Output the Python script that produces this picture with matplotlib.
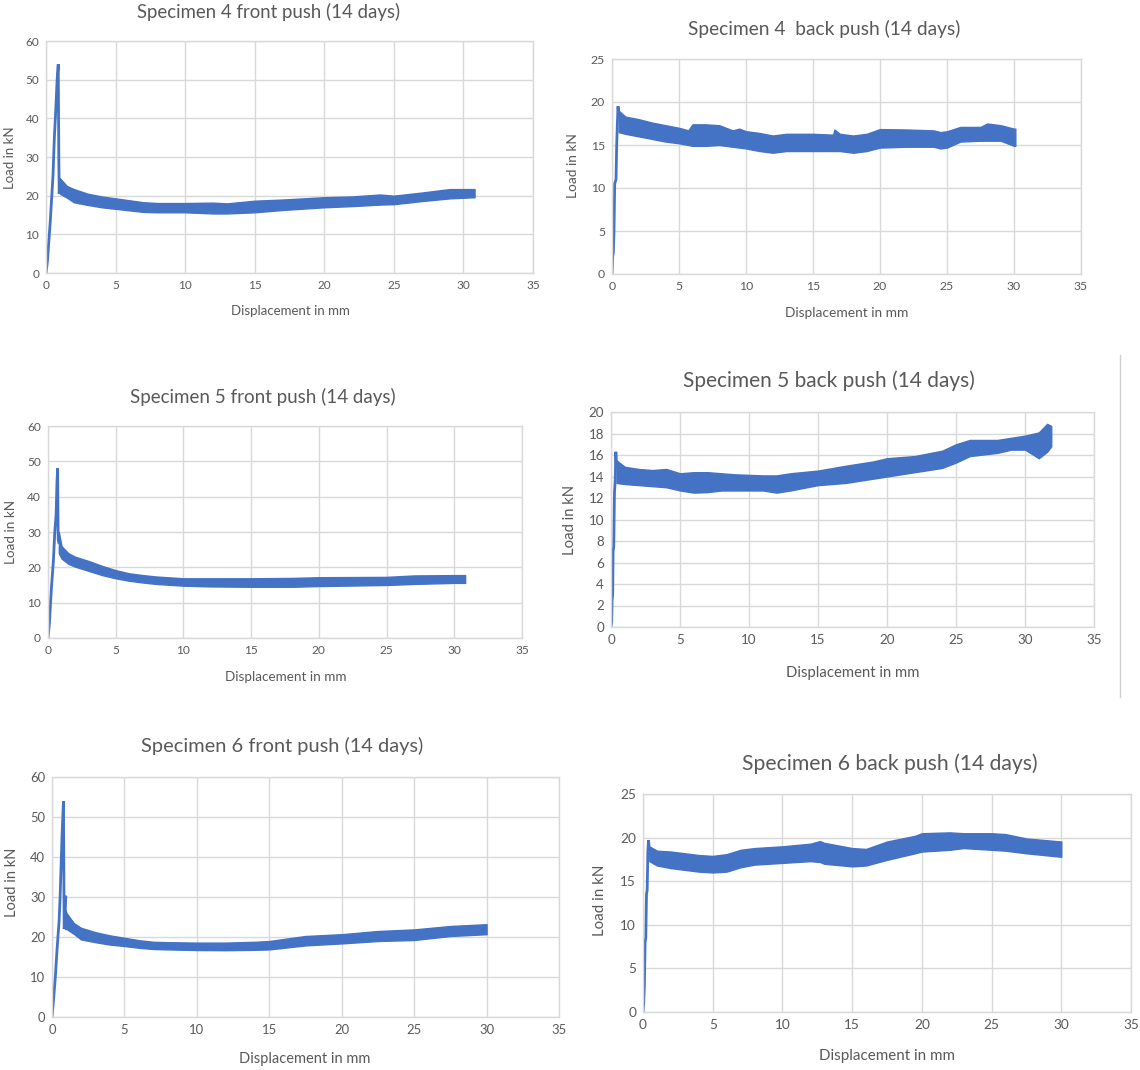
import matplotlib
matplotlib.use("Agg")
import matplotlib.pyplot as plt
from matplotlib.lines import Line2D

W, H = 1140, 1070
BLUE = "#4472C4"
GRID = "#D9D9D9"
TXT = "#595959"
FONT = ["Lato", "DejaVu Sans"]
plt.rcParams["font.family"] = FONT

# ---------------- data ----------------
# Specimen 4 front push
s4f_rise_x = [0.0, 0.1, 0.3, 0.5, 0.6, 0.7, 0.8, 0.88, 0.92, 0.95, 1.0]
s4f_rise_y = [0.0, 3.0, 13.0, 25.0, 35.0, 42.0, 50.0, 54.0, 30.0, 20.5, 24.0]
s4f_x  = [1.0, 1.5, 2, 3, 4, 5, 6, 7, 8, 10, 12, 13, 15, 17, 20, 22, 24, 25, 27, 29, 30.8]
s4f_lo = [20.5, 19.5, 18.3, 17.6, 17.0, 16.6, 16.2, 15.8, 15.7, 15.7, 15.4, 15.4, 15.7, 16.3, 17.0, 17.3, 17.7, 17.8, 18.6, 19.3, 19.6]
s4f_hi = [24.5, 22.5, 21.7, 20.5, 19.8, 19.3, 18.8, 18.3, 18.1, 18.1, 18.2, 18.0, 18.7, 19.0, 19.6, 19.8, 20.3, 20.0, 20.8, 21.7, 21.7]

# Specimen 4 back push
s4b_rise_x = [0.0, 0.05, 0.1, 0.15, 0.2, 0.3, 0.35, 0.4, 0.45, 0.5]
s4b_rise_y = [0.0, 2.0, 2.5, 5.0, 10.5, 11.0, 15.0, 17.5, 19.5, 18.5]
s4b_x  = [0.5, 1, 2, 3, 4, 5, 5.7, 6, 7, 8, 9, 9.5, 10, 11, 12, 13, 15, 16.5, 16.6, 17,
          18, 19, 20, 22, 24, 24.5, 25, 26, 27.5, 28, 29, 30, 30.1]
s4b_lo = [16.5, 16.3, 16.0, 15.7, 15.4, 15.2, 15.0, 14.9, 14.9, 15.0, 14.8, 14.7, 14.6, 14.3, 14.1, 14.3, 14.3, 14.3, 14.3, 14.3,
          14.1, 14.3, 14.7, 14.8, 14.8, 14.6, 14.7, 15.4, 15.5, 15.5, 15.5, 14.9, 14.9]
s4b_hi = [19.0, 18.3, 18.0, 17.6, 17.3, 17.0, 16.7, 17.4, 17.4, 17.3, 16.7, 16.9, 16.6, 16.4, 16.1, 16.3, 16.3, 16.2, 16.8, 16.3,
          16.1, 16.3, 16.85, 16.8, 16.7, 16.5, 16.6, 17.1, 17.1, 17.5, 17.3, 16.9, 16.9]

# Specimen 5 front push
s5f_rise_x = [0.0, 0.1, 0.25, 0.4, 0.5, 0.6, 0.66, 0.71, 0.75, 0.8]
s5f_rise_y = [0.0, 4.0, 14.0, 22.0, 30.0, 35.0, 44.0, 48.0, 28.0, 27.0]
s5f_x  = [0.8, 1, 1.5, 2, 3, 4, 5, 6, 7, 8, 10, 12, 15, 18, 20, 25, 27, 30, 30.8]
s5f_lo = [24.0, 22.5, 21.0, 20.2, 19.0, 17.8, 16.9, 16.2, 15.7, 15.3, 14.8, 14.6, 14.5, 14.5, 14.7, 15.0, 15.3, 15.6, 15.6]
s5f_hi = [30.0, 26.0, 24.0, 23.0, 21.8, 20.4, 19.2, 18.3, 17.8, 17.4, 16.9, 16.9, 16.9, 17.0, 17.2, 17.3, 17.7, 17.8, 17.8]

# Specimen 5 back push
s5b_rise_x = [0.0, 0.05, 0.08, 0.12, 0.15, 0.2, 0.25, 0.3, 0.35, 0.4]
s5b_rise_y = [0.0, 0.5, 2.5, 3.0, 7.0, 7.5, 12.5, 13.5, 16.3, 15.0]
s5b_x  = [0.4, 1, 2, 3, 4, 5, 6, 7, 8, 9, 10, 11, 12, 13, 15, 17, 19, 20, 22, 24, 25, 26, 28, 29, 30, 31, 31.6, 31.9]
s5b_lo = [13.4, 13.3, 13.2, 13.1, 13.0, 12.7, 12.5, 12.55, 12.7, 12.7, 12.7, 12.7, 12.5, 12.7, 13.2, 13.4, 13.8, 14.0,
          14.4, 14.8, 15.3, 15.9, 16.2, 16.5, 16.5, 15.7, 16.3, 16.8]
s5b_hi = [15.5, 14.9, 14.7, 14.6, 14.7, 14.3, 14.4, 14.4, 14.3, 14.2, 14.15, 14.1, 14.1, 14.3, 14.55, 15.0, 15.4, 15.7,
          15.9, 16.4, 17.0, 17.4, 17.4, 17.6, 17.8, 18.1, 18.9, 18.7]

# Specimen 6 front push
s6f_rise_x = [0.0, 0.1, 0.23, 0.35, 0.49, 0.56, 0.69, 0.79, 0.84, 0.88, 0.95]
s6f_rise_y = [0.0, 4.0, 10.0, 17.0, 24.0, 30.0, 45.0, 54.0, 22.0, 23.0, 30.0]
s6f_x  = [0.9, 1, 1.5, 2, 3, 4, 5, 6, 7, 8, 10, 12, 14, 15, 17.5, 20, 22.5, 25, 27.5, 30]
s6f_lo = [22.0, 22.0, 20.8, 19.4, 18.7, 18.1, 17.75, 17.3, 17.0, 16.9, 16.75, 16.7, 16.8, 16.9, 17.9, 18.4, 19.0, 19.25, 20.25, 20.7]
s6f_hi = [27.0, 26.0, 23.5, 22.3, 21.2, 20.4, 19.8, 19.2, 18.8, 18.7, 18.6, 18.6, 18.8, 19.0, 20.25, 20.7, 21.5, 21.9, 22.75, 23.2]

# Specimen 6 back push
s6b_rise_x = [0.0, 0.05, 0.1, 0.15, 0.2, 0.25, 0.3, 0.35, 0.4, 0.45]
s6b_rise_y = [0.0, 1.0, 3.0, 8.0, 8.5, 13.5, 14.0, 18.5, 19.7, 18.5]
s6b_x  = [0.45, 1, 2, 3, 4, 5, 6, 7, 8, 10, 12, 12.7, 13, 15, 16, 17.5, 19.5, 20, 22, 23, 25, 26, 27.5, 30]
s6b_lo = [17.3, 16.8, 16.5, 16.3, 16.1, 16.0, 16.1, 16.6, 16.9, 17.1, 17.3, 17.2, 17.0, 16.7, 16.8, 17.45, 18.2, 18.4,
          18.6, 18.8, 18.6, 18.5, 18.2, 17.8]
s6b_hi = [19.0, 18.5, 18.4, 18.2, 18.0, 17.9, 18.1, 18.6, 18.8, 19.0, 19.3, 19.6, 19.4, 18.8, 18.7, 19.55, 20.2, 20.5,
          20.6, 20.5, 20.5, 20.4, 19.9, 19.55]

titles = ["Specimen 4 front push (14 days)", "Specimen 4  back push (14 days)",
          "Specimen 5 front push (14 days)", "Specimen 5 back push (14 days)",
          "Specimen 6 front push (14 days)", "Specimen 6 back push (14 days)"]
x_label = "Displacement in mm"
y_label = "Load in kN"
x_ticks = [0, 5, 10, 15, 20, 25, 30, 35]

# ---------------- layout ----------------
fig = plt.figure(figsize=(W / 100, H / 100), dpi=100)
fig.patch.set_facecolor("white")

def px_axes(x0, x1, ytop, ybot):
    return fig.add_axes([x0 / W, 1 - ybot / H, (x1 - x0) / W, (ybot - ytop) / H])

panels = [
    dict(box=(46, 533, 41, 273), ymax=60, ystep=10, tpos=(269, 12), tsize=13.4,
         xlpos=(290, 311), ylpos=(10, 158), lsize=9.5, ksize=8.5,
         rise=(s4f_rise_x, s4f_rise_y), band=(s4f_x, s4f_lo, s4f_hi)),
    dict(box=(612, 1081, 59, 274), ymax=25, ystep=5, tpos=(824, 29), tsize=13.8,
         xlpos=(847, 313), ylpos=(573, 166), lsize=9.9, ksize=8.8,
         rise=(s4b_rise_x, s4b_rise_y), band=(s4b_x, s4b_lo, s4b_hi)),
    dict(box=(48, 522, 426, 638), ymax=60, ystep=10, tpos=(263, 397), tsize=13.5,
         xlpos=(286, 677), ylpos=(11, 532), lsize=9.7, ksize=8.6,
         rise=(s5f_rise_x, s5f_rise_y), band=(s5f_x, s5f_lo, s5f_hi)),
    dict(box=(611, 1094, 412, 627), ymax=20, ystep=2, tpos=(829, 381), tsize=15.0,
         xlpos=(853, 673), ylpos=(570, 520), lsize=10.7, ksize=9.6,
         rise=(s5b_rise_x, s5b_rise_y), band=(s5b_x, s5b_lo, s5b_hi)),
    dict(box=(52, 559, 777, 1017), ymax=60, ystep=10, tpos=(282, 746), tsize=14.4,
         xlpos=(305, 1059), ylpos=(12, 882), lsize=10.5, ksize=9.4,
         rise=(s6f_rise_x, s6f_rise_y), band=(s6f_x, s6f_lo, s6f_hi)),
    dict(box=(643, 1131, 794, 1012), ymax=25, ystep=5, tpos=(890, 764), tsize=15.2,
         xlpos=(887, 1056), ylpos=(600, 900), lsize=10.9, ksize=9.8,
         rise=(s6b_rise_x, s6b_rise_y), band=(s6b_x, s6b_lo, s6b_hi)),
]

for title, p in zip(titles, panels):
    ax = px_axes(*p["box"])
    ax.set_xlim(0, 35)
    ax.set_ylim(0, p["ymax"])
    ax.set_xticks(x_ticks)
    ax.set_yticks(list(range(0, p["ymax"] + 1, p["ystep"])))
    ax.grid(True, color=GRID, lw=1.0)
    ax.set_axisbelow(True)
    for s in ax.spines.values():
        s.set_color(GRID)
        s.set_linewidth(1.0)
    ax.tick_params(length=0, labelsize=p["ksize"], labelcolor=TXT, pad=5)
    bx, blo, bhi = p["band"]
    ax.fill_between(bx, blo, bhi, color=BLUE, lw=1.0, edgecolor=BLUE)
    rx, ry = p["rise"]
    ax.plot(rx, ry, color=BLUE, lw=2.0, solid_joinstyle="miter")
    fig.text(p["tpos"][0] / W, 1 - p["tpos"][1] / H, title, ha="center", va="center",
             fontsize=p["tsize"], color=TXT)
    fig.text(p["xlpos"][0] / W, 1 - p["xlpos"][1] / H, x_label, ha="center", va="center",
             fontsize=p["lsize"], color=TXT)
    fig.text(p["ylpos"][0] / W, 1 - p["ylpos"][1] / H, y_label, ha="center", va="center",
             fontsize=p["lsize"], color=TXT, rotation=90)

# thin separator line on the right of the middle row
fig.add_artist(Line2D([1120 / W, 1120 / W], [1 - 355 / H, 1 - 697 / H],
                      transform=fig.transFigure, color="#D0D0D0", lw=1.0))

fig.savefig("out.png", dpi=100, facecolor="white")
